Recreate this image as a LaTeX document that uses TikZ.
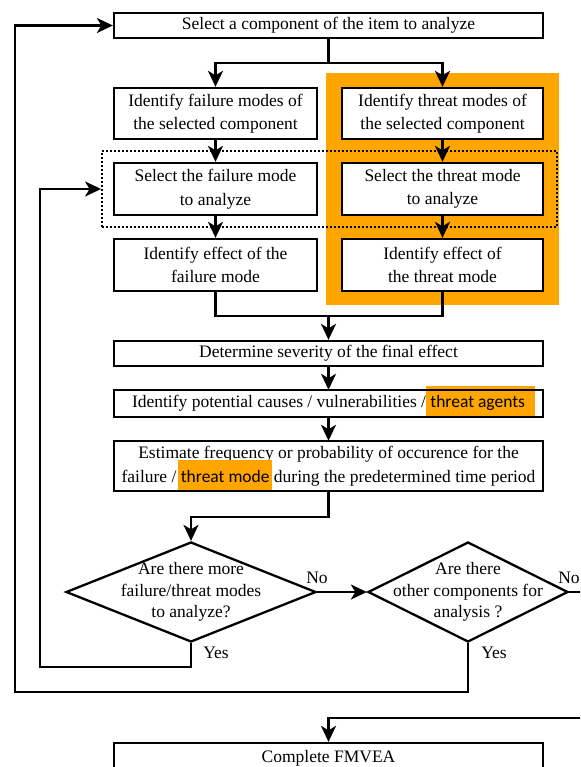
\documentclass[tikz,border=0pt]{standalone}
\usepackage{fontspec}
\setmainfont{Liberation Serif}
\newfontfamily\hlfont{Carlito}
\usetikzlibrary{arrows.meta,shapes.geometric}
\definecolor{hlorange}{RGB}{255,165,0}

% orange marker behind a word: #1 left pad, #2 right pad, #3 word
\newcommand\hlword[3]{{\setlength{\fboxsep}{0pt}\kern-#1\smash{\colorbox{hlorange}{\kern#1\rule[-9pt]{0pt}{31pt}\hlfont #3\kern#2}}\kern-#2}}

\begin{document}
\begin{tikzpicture}[x=1pt,y=-1pt,
  every node/.style={font=\fontsize{17.5}{23.5}\selectfont},
  box/.style={draw, line width=2.3pt, fill=white, rectangle, inner sep=0pt, align=center},
  plainbox/.style={rectangle, inner sep=0pt, align=center},
  frame/.style={draw, line width=2.3pt},
  decision/.style={draw, line width=2.3pt, fill=white, diamond, inner sep=0pt,
    minimum width=250pt, minimum height=100pt},
  dtext/.style={align=center, font=\fontsize{17.5}{21.5}\selectfont},
  lbl/.style={inner sep=0pt},
  hlzone/.style={fill=hlorange, rectangle, inner sep=0pt},
  group/.style={draw, line width=1.9pt, dash pattern=on 1.9pt off 2.1pt, rectangle, inner sep=0pt},
  link/.style={line width=2.3pt},
  arr/.style={line width=2.3pt, -{Stealth[length=16pt,width=15pt,inset=4.5pt]}}
]
\useasboundingbox (0,0) rectangle (580,767);
\clip (0,0) rectangle (580,767);

% highlighted threat branch
\node[hlzone, minimum width=233pt, minimum height=232pt] (zone) at (442.5,189) {};

% process boxes
\node[box, minimum width=429pt, minimum height=25pt] (top) at (328.5,25.5)
  {Select a component of the item to analyze};
\node[box, minimum width=203pt, minimum height=51pt] (fm) at (215.5,113.5)
  {Identify failure modes of\\the selected component};
\node[box, minimum width=201pt, minimum height=51pt] (tm) at (442.5,113.5)
  {Identify threat modes of\\the selected component};
\node[box, minimum width=203pt, minimum height=52pt] (sf) at (215.5,189)
  {Select the failure mode\\to analyze};
\node[box, minimum width=201pt, minimum height=52pt] (st) at (442.5,189)
  {Select the threat mode\\to analyze};
\node[box, minimum width=203pt, minimum height=52pt] (ef) at (215.5,265)
  {Identify effect of the\\failure mode};
\node[box, minimum width=201pt, minimum height=52pt] (et) at (442.5,265)
  {Identify effect of\\the threat mode};

% dotted group around the selection step
\node[group, minimum width=455pt, minimum height=76pt] (grp) at (329.5,189) {};

\node[box, minimum width=429pt, minimum height=25pt] (det) at (328.5,353.5)
  {Determine severity of the final effect};
\node[plainbox, minimum width=429pt, minimum height=27pt] (idc) at (328.5,403.5)
  {Identify potential causes / vulnerabilities / \hlword{4pt}{10pt}{threat agents}};
\draw[frame] (idc.north west) rectangle (idc.south east);
\node[plainbox, minimum width=429pt, minimum height=50pt] (est) at (328.5,466)
  {Estimate frequency or probability of occurence for the\\failure / \hlword{3pt}{2pt}{threat mode} during the predetermined time period};
\draw[frame] (est.north west) rectangle (est.south east);

% decisions
\node[decision, label={[dtext]center:Are there more\\failure/threat modes\\to analyze?}] (d1) at (191,592) {};
\node[decision, minimum width=200pt, label={[dtext]center:Are there\\other components for\\analysis ?}] (d2) at (468,592) {};

\node[box, minimum width=429pt, minimum height=30pt] (fin) at (328.5,758) {Complete FMVEA};

% branch labels
\node[lbl] (no1) at (317,578) {No};
\node[lbl] (no2) at (569,578) {No};
\node[lbl] (yes1) at (216,653) {Yes};
\node[lbl] (yes2) at (494,653) {Yes};

% routing points
\coordinate (j1) at (328.5,63);
\coordinate (j2) at (328.5,316);
\coordinate (j3) at (328.5,517);
\coordinate (c1) at (40,667);
\coordinate (c2) at (15,692);
\coordinate (c3) at (590,592);
\coordinate (c4) at (590,718);

% connectors
\draw[link] (top.south) -- (j1);
\draw[arr] (j1) -| (fm.north);
\draw[arr] (j1) -| (tm.north);
\draw[arr] (fm) -- (sf);
\draw[arr] (tm) -- (st);
\draw[arr] (sf) -- (ef);
\draw[arr] (st) -- (et);
\draw[link] (ef.south) |- (j2);
\draw[link] (et.south) |- (j2);
\draw[arr] (j2) -- (det.north);
\draw[arr] (det) -- (idc);
\draw[arr] (idc) -- (est);
\draw[arr] (est.south) -- (j3) -| (d1.north);
\draw[arr] (d1.east) -- (d2.west);
\draw[arr] (d1.south) |- (c1) |- (grp.west);
\draw[arr] (d2.south) |- (c2) |- (top.west);
\draw[link] (d2.east) -- (c3);
\draw[arr] (c4) -| (fin.north);
\end{tikzpicture}
\end{document}
